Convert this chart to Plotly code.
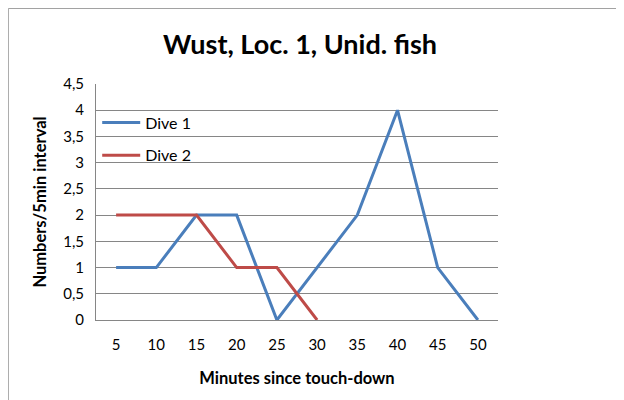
import plotly.graph_objects as go

minutes = [5, 10, 15, 20, 25, 30, 35, 40, 45, 50]
dive1 = [1, 1, 2, 2, 0, 1, 2, 4, 1, 0]
dive2 = [2, 2, 2, 1, 1, 0]
y_ticks = [0, 0.5, 1, 1.5, 2, 2.5, 3, 3.5, 4, 4.5]
y_labels = ["0", "0,5", "1", "1,5", "2", "2,5", "3", "3,5", "4", "4,5"]

fig = go.Figure()
fig.add_trace(go.Scatter(x=minutes, y=dive1, mode="lines", name="Dive 1", legendgroup="d1",
                         line=dict(color="#4A7EBB", width=3)))
fig.add_trace(go.Scatter(x=minutes[:len(dive2)], y=dive2, mode="lines", name="Dive 2", legendgroup="d2",
                         line=dict(color="#BE4B48", width=3)))

fig.update_layout(
    width=624, height=400,
    paper_bgcolor="white", plot_bgcolor="white",
    font=dict(family="Lato, Open Sans, sans-serif", size=15, color="black"),
    title=dict(text="<b>Wust, Loc. 1, Unid. fish</b>", x=0.468, xanchor="center",
               y=0.9075, yanchor="middle", font=dict(size=27)),
    margin=dict(l=88, r=134, t=76, b=88),
    showlegend=True,
    legend=dict(x=0.003, y=0.909, xanchor="left", yanchor="top",
                bgcolor="rgba(0,0,0,0)", font=dict(size=16),
                tracegroupgap=9, itemwidth=38),
    shapes=[dict(type="rect", xref="paper", yref="paper", x0=-0.218, x1=1.4,
                 y0=-0.36, y1=1.32, line=dict(color="#A0A0A0", width=1))],
)
fig.update_xaxes(range=[2.5, 52.5], tickvals=minutes, showgrid=False,
                 showline=True, linecolor="#868686", ticks="", ticklabelstandoff=11,
                 tickfont=dict(size=15),
                 title=dict(text="<b>Minutes since touch-down</b>", font=dict(size=16.5), standoff=20))
fig.update_yaxes(range=[0, 4.5], tickvals=y_ticks, ticktext=y_labels,
                 showgrid=True, gridcolor="#868686", gridwidth=1,
                 showline=True, linecolor="#868686", ticks="", zeroline=False,
                 ticklabelstandoff=8, tickfont=dict(size=15),
                 title=dict(text="<b>Numbers/5min interval</b>", font=dict(size=16.5), standoff=12))

fig.write_html("out.html")
